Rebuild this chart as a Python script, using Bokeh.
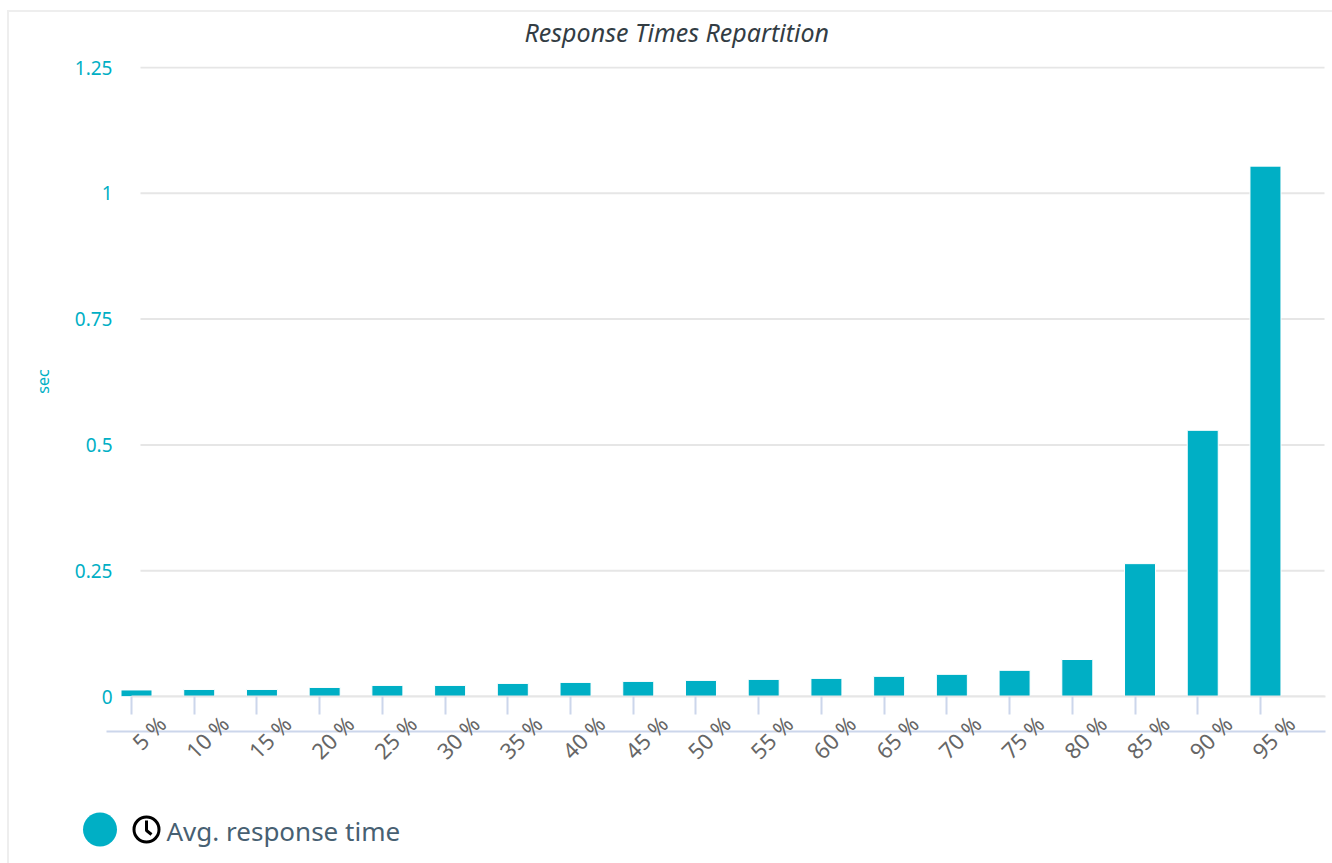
from bokeh.plotting import figure
from bokeh.embed import file_html
from bokeh.resources import INLINE
from bokeh.layouts import column
from bokeh.models import Range1d, FixedTicker, LinearAxis, Title
from bokeh.core.properties import value

title = "Response Times Repartition"
categories = ["5 %","10 %","15 %","20 %","25 %","30 %","35 %","40 %","45 %","50 %","55 %","60 %","65 %","70 %","75 %","80 %","85 %","90 %","95 %"]
avg_response = [0.013,0.014,0.014,0.018,0.022,0.022,0.026,0.028,0.030,0.032,0.034,0.036,0.040,0.044,0.052,0.0735,0.264,0.529,1.054]
y_ticks = [0,0.25,0.5,0.75,1,1.25]
y_tick_labels = ["0","0.25","0.5","0.75","1","1.25"]
y_label = "sec"
legend_label = "Avg. response time"

TEAL = "#00afc5"
FONT = "Noto Sans"
SLOT = 62.72
Y_SCALE = 503.2
OX, OY = 9, 12
FL, FR, FT, FB = 106, 1325, 66, 696
LT, LB = 806, 863

idx = list(range(len(categories)))
bar_x = [i + 5/SLOT for i in idx]
x_range = Range1d((FL-131)/SLOT, (FR-131)/SLOT)
y_range = Range1d(0, (FB-FT)/Y_SCALE)

p = figure(frame_width=FR-FL, frame_height=FB-FT, x_range=x_range, y_range=y_range,
           output_backend="svg", toolbar_location=None, x_axis_type=None, y_axis_type=None,
           min_border_left=FL-OX, min_border_right=1332-FR, min_border_top=FT-OY, min_border_bottom=LT-FB,
           outline_line_color=None, background_fill_color="white", frame_align=False)
p.grid.visible = False

p.title = None
p.add_layout(Title(text=" ", text_font_size="14px", standoff=0), "above")
p.add_layout(Title(text=title, text_font=FONT, text_font_style="italic", text_font_size="25px",
                   text_color="#333d44", align="left", offset=524-FL, standoff=0), "above")

gx0, gx1 = (140-131)/SLOT, (1324-131)/SLOT
p.segment(x0=[gx0]*len(y_ticks), x1=[gx1]*len(y_ticks), y0=y_ticks, y1=y_ticks, line_color="#e6e6e6", line_width=2)
p.vbar(x=bar_x, top=avg_response, bottom=0, width=31/SLOT, fill_color=TEAL, line_color="white", line_width=1)

yax = LinearAxis(ticker=FixedTicker(ticks=y_ticks), major_label_overrides=dict(zip(y_ticks, y_tick_labels)),
                 bounds=(0, 1.25), axis_line_color=None, major_tick_line_color=None, minor_tick_line_color=None,
                 major_label_text_color=TEAL, major_label_text_font=FONT, major_label_text_font_size="19px",
                 major_label_standoff=-12, axis_label=y_label, axis_label_text_color=TEAL,
                 axis_label_text_font=FONT, axis_label_text_font_size="16px", axis_label_text_font_style="normal",
                 axis_label_standoff=18)
p.add_layout(yax, "left")

ends = idx + [19.04]
xax = LinearAxis(ticker=FixedTicker(ticks=ends), major_label_overrides={t: " " for t in ends},
                 bounds=(0, 19.04), axis_line_color="#e6e6e6", axis_line_width=2,
                 major_tick_line_color="#ccd6eb", major_tick_line_width=2, major_tick_in=0, major_tick_out=18,
                 minor_tick_line_color=None, major_label_text_font_size="12px", major_label_standoff=0)
p.add_layout(xax, "below")

SHIFT = 30/SLOT
lab_ticks = [i + SHIFT for i in idx]
xlab = LinearAxis(ticker=FixedTicker(ticks=lab_ticks), major_label_overrides=dict(zip(lab_ticks, categories)),
                  axis_line_color="#ccd6eb", axis_line_width=2, major_tick_line_color=None, minor_tick_line_color=None,
                  major_label_orientation=0.785, major_label_text_color="#666666", major_label_text_font=FONT,
                  major_label_text_font_size="22px", major_label_standoff=-18)
p.add_layout(xlab, "below")

# legend row, in page pixels
q = figure(width=1332-OX, height=LB-LT, x_range=Range1d(OX, 1332), y_range=Range1d(LB, LT),
           output_backend="svg", toolbar_location=None, x_axis_type=None, y_axis_type=None,
           min_border=0, outline_line_color=None, frame_align=False)
q.grid.visible = False
q.scatter(x=[99.5], y=[829], size=34, fill_color=TEAL, line_color=None)
q.scatter(x=[146], y=[829], size=25, fill_color=None, line_color="black", line_width=3)
q.line(x=[146,146,151], y=[820,830,834], line_color="black", line_width=3)
q.text(x=[166], y=[830], text=[legend_label], text_font=value(FONT), text_font_size="26px",
       text_color="#476072", text_baseline="middle")

layout = column(p, q, spacing=0, margin=(10,0,0,7),
                styles={"border-left":"2px solid #eeeeee","border-top":"2px solid #eeeeee"})
open("out.html","w").write(file_html(layout, INLINE))
